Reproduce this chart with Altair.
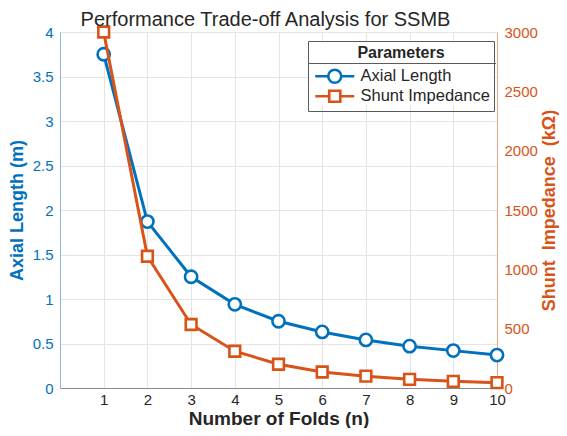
import altair as alt
import pandas as pd

# ---- data ----
folds = [1, 2, 3, 4, 5, 6, 7, 8, 9, 10]
axial_length = [3.75, 1.87, 1.25, 0.94, 0.75, 0.63, 0.54, 0.47, 0.42, 0.37]
shunt_impedance = [3000, 1110, 535, 310, 200, 135, 100, 73, 56, 45]
series_names = ["Axial Length", "Shunt Impedance"]
x_ticks = [1, 2, 3, 4, 5, 6, 7, 8, 9, 10]
left_ticks = [0, 0.5, 1, 1.5, 2, 2.5, 3, 3.5, 4]
right_ticks = [0, 500, 1000, 1500, 2000, 2500, 3000]

BLUE = "#0072BD"
ORANGE = "#D95319"
DARK = "#262626"
GRID = "#e4e4e4"
FONT = "Liberation Sans"

df = pd.DataFrame({"n": folds, "axial": axial_length, "shunt": shunt_impedance})
legend_df = pd.DataFrame({"series": series_names,
                          "n": [folds[0], folds[0]],
                          "axial": [axial_length[0], axial_length[0]]})
one_row = legend_df.head(1)

# legend symbols: line + marker (custom SVG paths)
circle_sym = "M-3,0L-1,0M1,0L3,0M1,0A1,1,0,1,1,-1,0A1,1,0,1,1,1,0Z"
square_sym = "M-3,0L-0.85,0M0.85,0L3,0M-0.85,-0.85L0.85,-0.85L0.85,0.85L-0.85,0.85Z"

x_enc = alt.X(
    "n:Q",
    scale=alt.Scale(domain=[0, 10], nice=False, zero=False),
    axis=alt.Axis(values=x_ticks, title="Number of Folds (n)", grid=True,
                  gridColor=GRID, ticks=False, labelPadding=4, labelFlush=False,
                  labelFontSize=15, labelColor=DARK, labelFont=FONT,
                  titleFontSize=19, titleFontWeight="bold", titleColor=DARK,
                  titleFont=FONT, titlePadding=2, domainColor="#8a8a8a"),
)

y_left = alt.Y(
    "axial:Q",
    scale=alt.Scale(domain=[0, 4], nice=False),
    axis=alt.Axis(values=left_ticks, format="~g", title="Axial Length (m)",
                  grid=True, gridColor=GRID, ticks=False, labelPadding=7,
                  labelFontSize=15, labelColor=BLUE, labelFont=FONT,
                  titleFontSize=18, titleFontWeight="bold", titleColor=BLUE,
                  titleFont=FONT, titlePadding=6, domainColor="#8ab8e0"),
)

y_right = alt.Y(
    "shunt:Q",
    scale=alt.Scale(domain=[0, 3000], nice=False),
    axis=alt.Axis(values=right_ticks, format="d", orient="right",
                  title="Shunt\u00a0\u00a0Impedance\u00a0\u00a0(kΩ)",
                  grid=False, ticks=False, labelPadding=7,
                  labelFontSize=15, labelColor=ORANGE, labelFont=FONT,
                  titleFontSize=18, titleFontWeight="bold", titleColor=ORANGE,
                  titleFont=FONT, titlePadding=3, titleAngle=270,
                  titleBaseline="top", domainColor="#eba98a"),
)

base = alt.Chart(df)

axial_line = base.mark_line(color=BLUE, strokeWidth=3).encode(x=x_enc, y=y_left)
axial_pts = base.mark_point(shape="circle", filled=True, fill="white", stroke=BLUE,
                            strokeWidth=2.6, size=150, opacity=1).encode(x=x_enc, y=y_left)

# legend backdrop and the separator under its title
leg_bg = alt.Chart(one_row).mark_rect(color="white").encode(
    x=alt.value(249), x2=alt.value(435), y=alt.value(10), y2=alt.value(73))
leg_sep = alt.Chart(one_row).mark_rule(color="#5a5a5a", strokeWidth=1).encode(
    x=alt.value(248), x2=alt.value(436), y=alt.value(31.5))

leg = alt.Legend(
    title="Parameters", orient="none", legendX=248, legendY=9,
    strokeColor="#5a5a5a", fillColor="transparent", padding=4,
    symbolSize=169, symbolStrokeWidth=2.6, symbolOpacity=1,
    symbolFillColor="white", symbolOffset=14.5, labelOffset=17.5,
    labelFontSize=16.5, labelFont=FONT, labelColor=DARK,
    titleFontSize=16, titleFont=FONT, titleFontWeight="bold", titleColor=DARK,
    titleAnchor="middle", titlePadding=7, rowPadding=-5.5,
)
legend_layer = alt.Chart(legend_df).mark_point(opacity=0, size=169).encode(
    x=x_enc, y=y_left,
    color=alt.Color("series:N", scale=alt.Scale(domain=series_names, range=[BLUE, ORANGE]), legend=leg),
    shape=alt.Shape("series:N", scale=alt.Scale(domain=series_names, range=[circle_sym, square_sym]), legend=leg),
)

left = alt.layer(axial_line, axial_pts, leg_bg, leg_sep, legend_layer)

shunt_line = base.mark_line(color=ORANGE, strokeWidth=3).encode(x=x_enc, y=y_right)
shunt_pts = base.mark_point(shape="square", filled=True, fill="white", stroke=ORANGE,
                            strokeWidth=2.6, size=115, opacity=1).encode(x=x_enc, y=y_right)
right = alt.layer(shunt_line, shunt_pts)

chart = alt.layer(left, right).resolve_scale(y="independent").properties(
    width=551, height=420,
    autosize=alt.AutoSizeParams(type="fit", contains="padding"),
    padding={"left": 0, "top": 2, "right": 0, "bottom": 0},
    title=alt.Title("Performance Trade-off Analysis for SSMB", fontSize=20,
                    fontWeight="normal", color=DARK, font=FONT, offset=-9, dx=-13),
).configure_view(stroke="#a6a6a6").configure(background="white")

chart.save("out.html", embed_options={"renderer": "svg", "actions": False})
